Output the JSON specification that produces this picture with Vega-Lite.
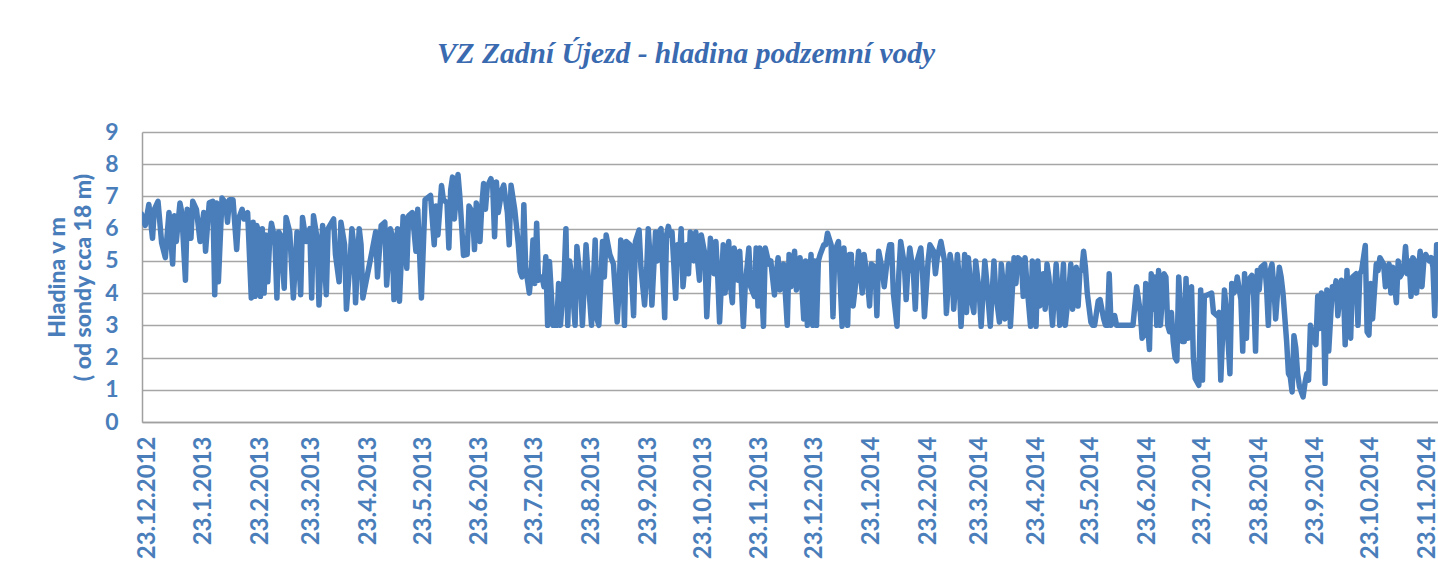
{
  "$schema": "https://vega.github.io/schema/vega-lite/v6.json",
  "autosize": {"type": "none"},
  "padding": {"left": 142, "top": 132, "right": 0, "bottom": 148},
  "width": 1296,
  "height": 290,
  "background": "white",
  "title": {
    "text": "VZ Zadní Újezd - hladina podzemní vody",
    "font": "Liberation Serif",
    "fontStyle": "italic",
    "fontWeight": "bold",
    "fontSize": 29.5,
    "color": "#3a6ab0",
    "anchor": "middle",
    "frame": "group",
    "dx": -104,
    "baseline": "alphabetic",
    "offset": 29
  },
  "config": {
    "view": {"stroke": null},
    "axis": {
      "labelFont": "Lato",
      "labelFontWeight": "bold",
      "labelColor": "#4a7ebb",
      "titleFont": "Lato",
      "titleFontWeight": "bold",
      "titleColor": "#4a7ebb",
      "domainColor": "#a0a0a0",
      "domainWidth": 1.5,
      "gridColor": "#a6a6a6",
      "gridWidth": 1.5,
      "gridOpacity": 1,
      "ticks": false,
      "tickSize": 0
    }
  },
  "data": {
    "values": [
      {"d":"2012-12-20","v":6.45},{"d":"2012-12-22","v":6.1},{"d":"2012-12-24","v":6.75},{"d":"2012-12-26","v":5.7},{"d":"2012-12-27","v":6.6},{"d":"2012-12-29","v":6.85},{"d":"2012-12-31","v":5.55},
      {"d":"2013-01-02","v":5.1},{"d":"2013-01-04","v":6.5},{"d":"2013-01-06","v":4.9},{"d":"2013-01-07","v":6.4},{"d":"2013-01-08","v":5.6},{"d":"2013-01-10","v":6.8},{"d":"2013-01-11","v":6.5},{"d":"2013-01-13","v":4.4},{"d":"2013-01-14","v":6.6},{"d":"2013-01-16","v":5.7},{"d":"2013-01-17","v":6.85},{"d":"2013-01-19","v":6.6},{"d":"2013-01-21","v":5.6},{"d":"2013-01-23","v":6.5},{"d":"2013-01-24","v":5.3},{"d":"2013-01-26","v":6.8},{"d":"2013-01-28","v":6.85},{"d":"2013-01-29","v":3.95},{"d":"2013-01-30","v":6.8},{"d":"2013-01-31","v":4.35},
      {"d":"2013-02-02","v":6.95},{"d":"2013-02-04","v":6.8},{"d":"2013-02-05","v":6.2},{"d":"2013-02-06","v":6.9},{"d":"2013-02-08","v":6.9},{"d":"2013-02-10","v":5.35},{"d":"2013-02-11","v":6.3},{"d":"2013-02-13","v":6.6},{"d":"2013-02-14","v":6.3},{"d":"2013-02-16","v":6.5},{"d":"2013-02-18","v":3.85},{"d":"2013-02-19","v":6.2},{"d":"2013-02-20","v":3.9},{"d":"2013-02-21","v":6.1},{"d":"2013-02-22","v":5.9},{"d":"2013-02-23","v":3.9},{"d":"2013-02-24","v":6.0},{"d":"2013-02-25","v":4.0},{"d":"2013-02-26","v":5.8},{"d":"2013-02-27","v":4.35},{"d":"2013-02-28","v":5.6},
      {"d":"2013-03-01","v":6.17},{"d":"2013-03-02","v":5.9},{"d":"2013-03-03","v":5.5},{"d":"2013-03-04","v":3.85},{"d":"2013-03-05","v":5.9},{"d":"2013-03-06","v":5.8},{"d":"2013-03-08","v":4.15},{"d":"2013-03-09","v":6.35},{"d":"2013-03-11","v":5.9},{"d":"2013-03-13","v":3.85},{"d":"2013-03-15","v":5.9},{"d":"2013-03-16","v":5.0},{"d":"2013-03-17","v":3.95},{"d":"2013-03-18","v":6.35},{"d":"2013-03-20","v":5.6},{"d":"2013-03-22","v":6.0},{"d":"2013-03-23","v":3.85},{"d":"2013-03-24","v":6.4},{"d":"2013-03-26","v":5.7},{"d":"2013-03-27","v":3.63},{"d":"2013-03-29","v":6.1},{"d":"2013-03-31","v":3.95},
      {"d":"2013-04-01","v":6.0},{"d":"2013-04-02","v":6.1},{"d":"2013-04-04","v":6.3},{"d":"2013-04-05","v":5.2},{"d":"2013-04-07","v":4.35},{"d":"2013-04-08","v":6.2},{"d":"2013-04-10","v":5.5},{"d":"2013-04-11","v":3.5},{"d":"2013-04-13","v":5.0},{"d":"2013-04-14","v":6.0},{"d":"2013-04-15","v":5.5},{"d":"2013-04-16","v":3.7},{"d":"2013-04-18","v":6.0},{"d":"2013-04-19","v":5.5},{"d":"2013-04-20","v":3.85},{"d":"2013-04-25","v":5.3},{"d":"2013-04-27","v":5.9},{"d":"2013-04-28","v":4.5},{"d":"2013-04-30","v":6.1},
      {"d":"2013-05-02","v":6.2},{"d":"2013-05-03","v":4.25},{"d":"2013-05-05","v":6.0},{"d":"2013-05-06","v":5.8},{"d":"2013-05-07","v":3.8},{"d":"2013-05-09","v":6.0},{"d":"2013-05-10","v":3.75},{"d":"2013-05-12","v":6.38},{"d":"2013-05-14","v":4.77},{"d":"2013-05-15","v":6.4},{"d":"2013-05-17","v":6.5},{"d":"2013-05-19","v":5.3},{"d":"2013-05-20","v":6.6},{"d":"2013-05-22","v":3.85},{"d":"2013-05-24","v":6.9},{"d":"2013-05-27","v":7.03},{"d":"2013-05-29","v":5.5},{"d":"2013-05-30","v":6.7},{"d":"2013-05-31","v":5.8},
      {"d":"2013-06-02","v":7.34},{"d":"2013-06-03","v":6.9},{"d":"2013-06-05","v":6.8},{"d":"2013-06-06","v":5.4},{"d":"2013-06-07","v":7.2},{"d":"2013-06-08","v":7.6},{"d":"2013-06-09","v":6.3},{"d":"2013-06-11","v":7.68},{"d":"2013-06-12","v":7.0},{"d":"2013-06-14","v":5.17},{"d":"2013-06-16","v":5.2},{"d":"2013-06-17","v":6.7},{"d":"2013-06-19","v":6.5},{"d":"2013-06-20","v":5.35},{"d":"2013-06-21","v":6.8},{"d":"2013-06-23","v":5.6},{"d":"2013-06-24","v":6.7},{"d":"2013-06-25","v":7.4},{"d":"2013-06-26","v":6.6},{"d":"2013-06-27","v":7.3},{"d":"2013-06-29","v":7.55},{"d":"2013-06-30","v":7.3},
      {"d":"2013-07-01","v":5.75},{"d":"2013-07-02","v":7.45},{"d":"2013-07-03","v":6.5},{"d":"2013-07-05","v":7.2},{"d":"2013-07-06","v":7.35},{"d":"2013-07-08","v":6.5},{"d":"2013-07-09","v":5.5},{"d":"2013-07-10","v":7.35},{"d":"2013-07-12","v":6.6},{"d":"2013-07-14","v":5.5},{"d":"2013-07-15","v":4.67},{"d":"2013-07-16","v":4.5},{"d":"2013-07-17","v":6.74},{"d":"2013-07-18","v":4.8},{"d":"2013-07-20","v":4.0},{"d":"2013-07-21","v":4.6},{"d":"2013-07-22","v":5.65},{"d":"2013-07-23","v":4.3},{"d":"2013-07-24","v":6.17},{"d":"2013-07-25","v":4.4},{"d":"2013-07-27","v":4.5},{"d":"2013-07-28","v":4.2},{"d":"2013-07-29","v":5.13},{"d":"2013-07-30","v":3.0},{"d":"2013-07-31","v":4.98},
      {"d":"2013-08-01","v":4.0},{"d":"2013-08-02","v":3.0},{"d":"2013-08-04","v":3.0},{"d":"2013-08-05","v":4.3},{"d":"2013-08-06","v":3.0},{"d":"2013-08-08","v":4.5},{"d":"2013-08-09","v":6.0},{"d":"2013-08-10","v":3.0},{"d":"2013-08-11","v":5.0},{"d":"2013-08-12","v":4.6},{"d":"2013-08-14","v":3.0},{"d":"2013-08-15","v":5.45},{"d":"2013-08-17","v":4.3},{"d":"2013-08-18","v":3.0},{"d":"2013-08-20","v":5.5},{"d":"2013-08-22","v":3.8},{"d":"2013-08-23","v":3.0},{"d":"2013-08-25","v":5.65},{"d":"2013-08-26","v":3.2},{"d":"2013-08-27","v":3.0},{"d":"2013-08-29","v":5.6},{"d":"2013-08-30","v":4.5},{"d":"2013-08-31","v":5.8},
      {"d":"2013-09-02","v":5.2},{"d":"2013-09-04","v":4.9},{"d":"2013-09-06","v":3.1},{"d":"2013-09-07","v":4.0},{"d":"2013-09-08","v":5.65},{"d":"2013-09-09","v":5.2},{"d":"2013-09-10","v":3.0},{"d":"2013-09-11","v":5.6},{"d":"2013-09-13","v":5.5},{"d":"2013-09-15","v":3.3},{"d":"2013-09-16","v":5.6},{"d":"2013-09-18","v":5.96},{"d":"2013-09-19","v":4.8},{"d":"2013-09-21","v":3.63},{"d":"2013-09-22","v":4.5},{"d":"2013-09-23","v":6.0},{"d":"2013-09-24","v":5.1},{"d":"2013-09-25","v":3.63},{"d":"2013-09-27","v":5.9},{"d":"2013-09-28","v":5.0},{"d":"2013-09-29","v":5.9},{"d":"2013-09-30","v":6.0},
      {"d":"2013-10-02","v":3.24},{"d":"2013-10-03","v":5.8},{"d":"2013-10-04","v":6.07},{"d":"2013-10-05","v":5.8},{"d":"2013-10-06","v":5.9},{"d":"2013-10-08","v":3.84},{"d":"2013-10-09","v":5.5},{"d":"2013-10-10","v":5.0},{"d":"2013-10-11","v":6.0},{"d":"2013-10-12","v":4.2},{"d":"2013-10-14","v":5.5},{"d":"2013-10-15","v":4.6},{"d":"2013-10-16","v":5.9},{"d":"2013-10-18","v":5.0},{"d":"2013-10-19","v":5.9},{"d":"2013-10-20","v":5.0},{"d":"2013-10-21","v":4.4},{"d":"2013-10-22","v":5.8},{"d":"2013-10-24","v":5.2},{"d":"2013-10-25","v":3.27},{"d":"2013-10-27","v":5.7},{"d":"2013-10-29","v":4.6},{"d":"2013-10-30","v":5.6},{"d":"2013-10-31","v":4.5},
      {"d":"2013-11-01","v":3.1},{"d":"2013-11-03","v":5.5},{"d":"2013-11-04","v":4.0},{"d":"2013-11-06","v":5.6},{"d":"2013-11-07","v":4.2},{"d":"2013-11-08","v":3.7},{"d":"2013-11-09","v":5.4},{"d":"2013-11-11","v":4.4},{"d":"2013-11-12","v":5.3},{"d":"2013-11-14","v":2.97},{"d":"2013-11-15","v":4.2},{"d":"2013-11-17","v":5.4},{"d":"2013-11-18","v":4.2},{"d":"2013-11-20","v":3.9},{"d":"2013-11-21","v":5.4},{"d":"2013-11-22","v":3.6},{"d":"2013-11-23","v":5.4},{"d":"2013-11-25","v":2.97},{"d":"2013-11-26","v":5.4},{"d":"2013-11-28","v":4.9},{"d":"2013-11-29","v":5.0},
      {"d":"2013-12-01","v":3.94},{"d":"2013-12-02","v":4.6},{"d":"2013-12-03","v":5.1},{"d":"2013-12-04","v":4.1},{"d":"2013-12-06","v":4.9},{"d":"2013-12-08","v":3.0},{"d":"2013-12-09","v":5.2},{"d":"2013-12-10","v":4.2},{"d":"2013-12-12","v":5.3},{"d":"2013-12-13","v":4.1},{"d":"2013-12-15","v":5.1},{"d":"2013-12-16","v":4.2},{"d":"2013-12-17","v":3.2},{"d":"2013-12-18","v":5.0},{"d":"2013-12-19","v":3.0},{"d":"2013-12-21","v":5.2},{"d":"2013-12-22","v":3.0},{"d":"2013-12-23","v":5.0},{"d":"2013-12-24","v":3.0},{"d":"2013-12-25","v":5.0},{"d":"2013-12-26","v":5.2},{"d":"2013-12-28","v":5.5},{"d":"2013-12-29","v":5.5},{"d":"2013-12-30","v":5.86},
      {"d":"2014-01-01","v":5.5},{"d":"2014-01-02","v":3.27},{"d":"2014-01-03","v":5.3},{"d":"2014-01-05","v":5.6},{"d":"2014-01-07","v":2.97},{"d":"2014-01-08","v":5.4},{"d":"2014-01-10","v":3.0},{"d":"2014-01-11","v":5.2},{"d":"2014-01-12","v":5.2},{"d":"2014-01-13","v":3.6},{"d":"2014-01-15","v":4.6},{"d":"2014-01-16","v":5.3},{"d":"2014-01-18","v":4.0},{"d":"2014-01-19","v":5.2},{"d":"2014-01-21","v":4.3},{"d":"2014-01-22","v":3.6},{"d":"2014-01-23","v":4.9},{"d":"2014-01-25","v":4.8},{"d":"2014-01-26","v":3.3},{"d":"2014-01-27","v":5.3},{"d":"2014-01-29","v":4.7},{"d":"2014-01-30","v":4.2},
      {"d":"2014-02-01","v":5.2},{"d":"2014-02-02","v":5.5},{"d":"2014-02-03","v":5.5},{"d":"2014-02-04","v":4.0},{"d":"2014-02-06","v":2.97},{"d":"2014-02-07","v":4.6},{"d":"2014-02-08","v":5.6},{"d":"2014-02-10","v":4.9},{"d":"2014-02-11","v":3.8},{"d":"2014-02-12","v":4.8},{"d":"2014-02-13","v":5.4},{"d":"2014-02-15","v":4.6},{"d":"2014-02-16","v":3.5},{"d":"2014-02-17","v":5.0},{"d":"2014-02-19","v":5.4},{"d":"2014-02-20","v":4.6},{"d":"2014-02-21","v":3.27},{"d":"2014-02-23","v":5.0},{"d":"2014-02-24","v":5.5},{"d":"2014-02-26","v":5.3},{"d":"2014-02-27","v":4.6},{"d":"2014-02-28","v":5.1},
      {"d":"2014-03-02","v":5.6},{"d":"2014-03-04","v":5.0},{"d":"2014-03-05","v":3.37},{"d":"2014-03-07","v":5.2},{"d":"2014-03-08","v":4.8},{"d":"2014-03-09","v":3.5},{"d":"2014-03-11","v":5.2},{"d":"2014-03-12","v":4.4},{"d":"2014-03-13","v":2.97},{"d":"2014-03-15","v":5.2},{"d":"2014-03-16","v":3.4},{"d":"2014-03-17","v":5.1},{"d":"2014-03-19","v":3.7},{"d":"2014-03-20","v":3.4},{"d":"2014-03-21","v":5.0},{"d":"2014-03-23","v":4.0},{"d":"2014-03-24","v":2.97},{"d":"2014-03-26","v":5.0},{"d":"2014-03-27","v":4.4},{"d":"2014-03-29","v":2.97},{"d":"2014-03-31","v":5.0},
      {"d":"2014-04-01","v":4.0},{"d":"2014-04-03","v":3.1},{"d":"2014-04-04","v":4.9},{"d":"2014-04-05","v":4.3},{"d":"2014-04-06","v":3.2},{"d":"2014-04-08","v":4.9},{"d":"2014-04-09","v":2.97},{"d":"2014-04-11","v":5.1},{"d":"2014-04-12","v":4.3},{"d":"2014-04-13","v":5.1},{"d":"2014-04-15","v":5.0},{"d":"2014-04-16","v":3.9},{"d":"2014-04-17","v":5.1},{"d":"2014-04-18","v":4.3},{"d":"2014-04-20","v":2.97},{"d":"2014-04-21","v":5.0},{"d":"2014-04-23","v":2.97},{"d":"2014-04-24","v":5.0},{"d":"2014-04-25","v":3.6},{"d":"2014-04-27","v":4.6},{"d":"2014-04-28","v":3.5},{"d":"2014-04-29","v":4.9},{"d":"2014-04-30","v":4.5},
      {"d":"2014-05-02","v":3.0},{"d":"2014-05-04","v":4.9},{"d":"2014-05-05","v":4.0},{"d":"2014-05-06","v":3.0},{"d":"2014-05-08","v":4.9},{"d":"2014-05-09","v":3.0},{"d":"2014-05-11","v":4.1},{"d":"2014-05-12","v":4.9},{"d":"2014-05-13","v":3.5},{"d":"2014-05-15","v":4.8},{"d":"2014-05-16","v":3.6},{"d":"2014-05-17","v":4.7},{"d":"2014-05-18","v":4.7},{"d":"2014-05-19","v":5.3},{"d":"2014-05-20","v":4.8},{"d":"2014-05-21","v":4.0},{"d":"2014-05-23","v":3.1},{"d":"2014-05-24","v":3.0},{"d":"2014-05-25","v":3.0},{"d":"2014-05-27","v":3.75},{"d":"2014-05-28","v":3.8},{"d":"2014-05-30","v":3.2},{"d":"2014-05-31","v":3.0},
      {"d":"2014-06-01","v":3.0},{"d":"2014-06-02","v":4.6},{"d":"2014-06-03","v":3.0},{"d":"2014-06-05","v":3.3},{"d":"2014-06-06","v":3.0},{"d":"2014-06-09","v":3.0},{"d":"2014-06-12","v":3.0},{"d":"2014-06-15","v":3.0},{"d":"2014-06-17","v":4.2},{"d":"2014-06-19","v":3.4},{"d":"2014-06-20","v":2.6},{"d":"2014-06-21","v":2.7},{"d":"2014-06-22","v":4.3},{"d":"2014-06-23","v":3.0},{"d":"2014-06-24","v":2.25},{"d":"2014-06-25","v":4.6},{"d":"2014-06-26","v":3.5},{"d":"2014-06-27","v":4.5},{"d":"2014-06-28","v":3.0},{"d":"2014-06-29","v":4.7},{"d":"2014-06-30","v":3.0},
      {"d":"2014-07-02","v":4.6},{"d":"2014-07-03","v":4.5},{"d":"2014-07-04","v":3.0},{"d":"2014-07-05","v":2.8},{"d":"2014-07-06","v":3.4},{"d":"2014-07-07","v":2.5},{"d":"2014-07-08","v":2.0},{"d":"2014-07-09","v":1.9},{"d":"2014-07-10","v":4.5},{"d":"2014-07-12","v":2.5},{"d":"2014-07-13","v":2.5},{"d":"2014-07-14","v":4.45},{"d":"2014-07-15","v":2.6},{"d":"2014-07-17","v":4.2},{"d":"2014-07-18","v":2.0},{"d":"2014-07-19","v":1.35},{"d":"2014-07-21","v":1.14},{"d":"2014-07-22","v":4.1},{"d":"2014-07-23","v":1.3},{"d":"2014-07-24","v":3.9},{"d":"2014-07-26","v":3.95},{"d":"2014-07-28","v":4.0},{"d":"2014-07-29","v":3.4},{"d":"2014-07-31","v":3.3},
      {"d":"2014-08-01","v":3.4},{"d":"2014-08-02","v":1.3},{"d":"2014-08-04","v":4.1},{"d":"2014-08-05","v":3.5},{"d":"2014-08-07","v":1.5},{"d":"2014-08-08","v":4.3},{"d":"2014-08-09","v":4.0},{"d":"2014-08-10","v":4.1},{"d":"2014-08-11","v":4.5},{"d":"2014-08-13","v":3.8},{"d":"2014-08-14","v":2.2},{"d":"2014-08-15","v":4.6},{"d":"2014-08-16","v":2.6},{"d":"2014-08-17","v":4.4},{"d":"2014-08-19","v":4.55},{"d":"2014-08-20","v":3.9},{"d":"2014-08-21","v":2.2},{"d":"2014-08-22","v":4.7},{"d":"2014-08-23","v":4.1},{"d":"2014-08-24","v":4.8},{"d":"2014-08-26","v":4.9},{"d":"2014-08-27","v":4.2},{"d":"2014-08-28","v":3.0},{"d":"2014-08-29","v":4.7},{"d":"2014-08-30","v":4.9},{"d":"2014-08-31","v":4.2},
      {"d":"2014-09-01","v":3.2},{"d":"2014-09-03","v":4.8},{"d":"2014-09-04","v":4.5},{"d":"2014-09-05","v":4.0},{"d":"2014-09-07","v":2.5},{"d":"2014-09-08","v":1.5},{"d":"2014-09-09","v":1.4},{"d":"2014-09-10","v":0.93},{"d":"2014-09-11","v":2.68},{"d":"2014-09-12","v":2.3},{"d":"2014-09-13","v":1.5},{"d":"2014-09-14","v":1.1},{"d":"2014-09-16","v":0.78},{"d":"2014-09-17","v":1.2},{"d":"2014-09-18","v":1.5},{"d":"2014-09-19","v":1.3},{"d":"2014-09-20","v":3.0},{"d":"2014-09-22","v":2.5},{"d":"2014-09-23","v":2.4},{"d":"2014-09-24","v":3.9},{"d":"2014-09-25","v":2.9},{"d":"2014-09-26","v":4.0},{"d":"2014-09-27","v":3.8},{"d":"2014-09-28","v":1.2},{"d":"2014-09-29","v":4.1},{"d":"2014-09-30","v":2.2},
      {"d":"2014-10-02","v":4.2},{"d":"2014-10-03","v":4.0},{"d":"2014-10-04","v":4.38},{"d":"2014-10-05","v":3.3},{"d":"2014-10-07","v":4.4},{"d":"2014-10-08","v":4.3},{"d":"2014-10-09","v":2.4},{"d":"2014-10-10","v":4.7},{"d":"2014-10-11","v":3.0},{"d":"2014-10-12","v":2.6},{"d":"2014-10-13","v":4.5},{"d":"2014-10-15","v":4.6},{"d":"2014-10-16","v":3.0},{"d":"2014-10-17","v":4.6},{"d":"2014-10-18","v":4.7},{"d":"2014-10-20","v":5.48},{"d":"2014-10-21","v":2.8},{"d":"2014-10-22","v":2.7},{"d":"2014-10-23","v":4.3},{"d":"2014-10-24","v":3.2},{"d":"2014-10-26","v":4.9},{"d":"2014-10-27","v":4.7},{"d":"2014-10-28","v":5.1},{"d":"2014-10-30","v":4.9},{"d":"2014-10-31","v":4.2},
      {"d":"2014-11-02","v":4.9},{"d":"2014-11-03","v":4.0},{"d":"2014-11-04","v":4.8},{"d":"2014-11-06","v":3.7},{"d":"2014-11-07","v":5.0},{"d":"2014-11-08","v":4.5},{"d":"2014-11-10","v":4.7},{"d":"2014-11-11","v":5.45},{"d":"2014-11-12","v":4.6},{"d":"2014-11-13","v":5.0},{"d":"2014-11-14","v":3.9},{"d":"2014-11-15","v":5.1},{"d":"2014-11-16","v":5.0},{"d":"2014-11-17","v":4.0},{"d":"2014-11-19","v":5.3},{"d":"2014-11-20","v":4.2},{"d":"2014-11-21","v":5.0},{"d":"2014-11-22","v":5.2},{"d":"2014-11-24","v":5.0},{"d":"2014-11-25","v":5.1},{"d":"2014-11-26","v":4.8},{"d":"2014-11-27","v":3.3},{"d":"2014-11-28","v":5.5},{"d":"2014-11-30","v":5.5}
    ]
  },
  "mark": {"type": "line", "color": "#4a7ebb", "strokeWidth": 5.5, "strokeJoin": "round", "strokeCap": "round", "clip": true},
  "encoding": {
    "x": {
      "field": "d",
      "type": "temporal",
      "scale": {
        "type": "utc",
        "domain": [
          {"year": 2012, "month": 12, "date": 20, "hours": 6, "utc": true},
          {"year": 2014, "month": 11, "date": 28, "hours": 18, "utc": true}
        ]
      },
      "axis": {
        "title": null,
        "grid": false,
        "format": "%-d.%-m.%Y",
        "labelAngle": -90,
        "labelAlign": "right",
        "labelBaseline": "middle",
        "labelFontSize": 24,
        "labelPadding": 14,
        "labelOverlap": false,
        "labelFlush": false,
        "values": [
          {"year": 2012, "month": 12, "date": 23, "utc": true},
          {"year": 2013, "month": 1, "date": 23, "utc": true},
          {"year": 2013, "month": 2, "date": 23, "utc": true},
          {"year": 2013, "month": 3, "date": 23, "utc": true},
          {"year": 2013, "month": 4, "date": 23, "utc": true},
          {"year": 2013, "month": 5, "date": 23, "utc": true},
          {"year": 2013, "month": 6, "date": 23, "utc": true},
          {"year": 2013, "month": 7, "date": 23, "utc": true},
          {"year": 2013, "month": 8, "date": 23, "utc": true},
          {"year": 2013, "month": 9, "date": 23, "utc": true},
          {"year": 2013, "month": 10, "date": 23, "utc": true},
          {"year": 2013, "month": 11, "date": 23, "utc": true},
          {"year": 2013, "month": 12, "date": 23, "utc": true},
          {"year": 2014, "month": 1, "date": 23, "utc": true},
          {"year": 2014, "month": 2, "date": 23, "utc": true},
          {"year": 2014, "month": 3, "date": 23, "utc": true},
          {"year": 2014, "month": 4, "date": 23, "utc": true},
          {"year": 2014, "month": 5, "date": 23, "utc": true},
          {"year": 2014, "month": 6, "date": 23, "utc": true},
          {"year": 2014, "month": 7, "date": 23, "utc": true},
          {"year": 2014, "month": 8, "date": 23, "utc": true},
          {"year": 2014, "month": 9, "date": 23, "utc": true},
          {"year": 2014, "month": 10, "date": 23, "utc": true},
          {"year": 2014, "month": 11, "date": 23, "utc": true}
        ]
      }
    },
    "y": {
      "field": "v",
      "type": "quantitative",
      "scale": {"domain": [0, 9], "nice": false, "zero": true},
      "axis": {
        "title": ["Hladina v m", "( od sondy cca 18 m)"],
        "titleFont": "Lato",
        "titleFontWeight": 900,
        "titleFontSize": 23,
        "titleLineHeight": 26,
        "titlePadding": 9,
        "values": [0, 1, 2, 3, 4, 5, 6, 7, 8, 9],
        "labelFontSize": 23,
        "labelPadding": 24,
        "grid": true
      }
    }
  }
}
